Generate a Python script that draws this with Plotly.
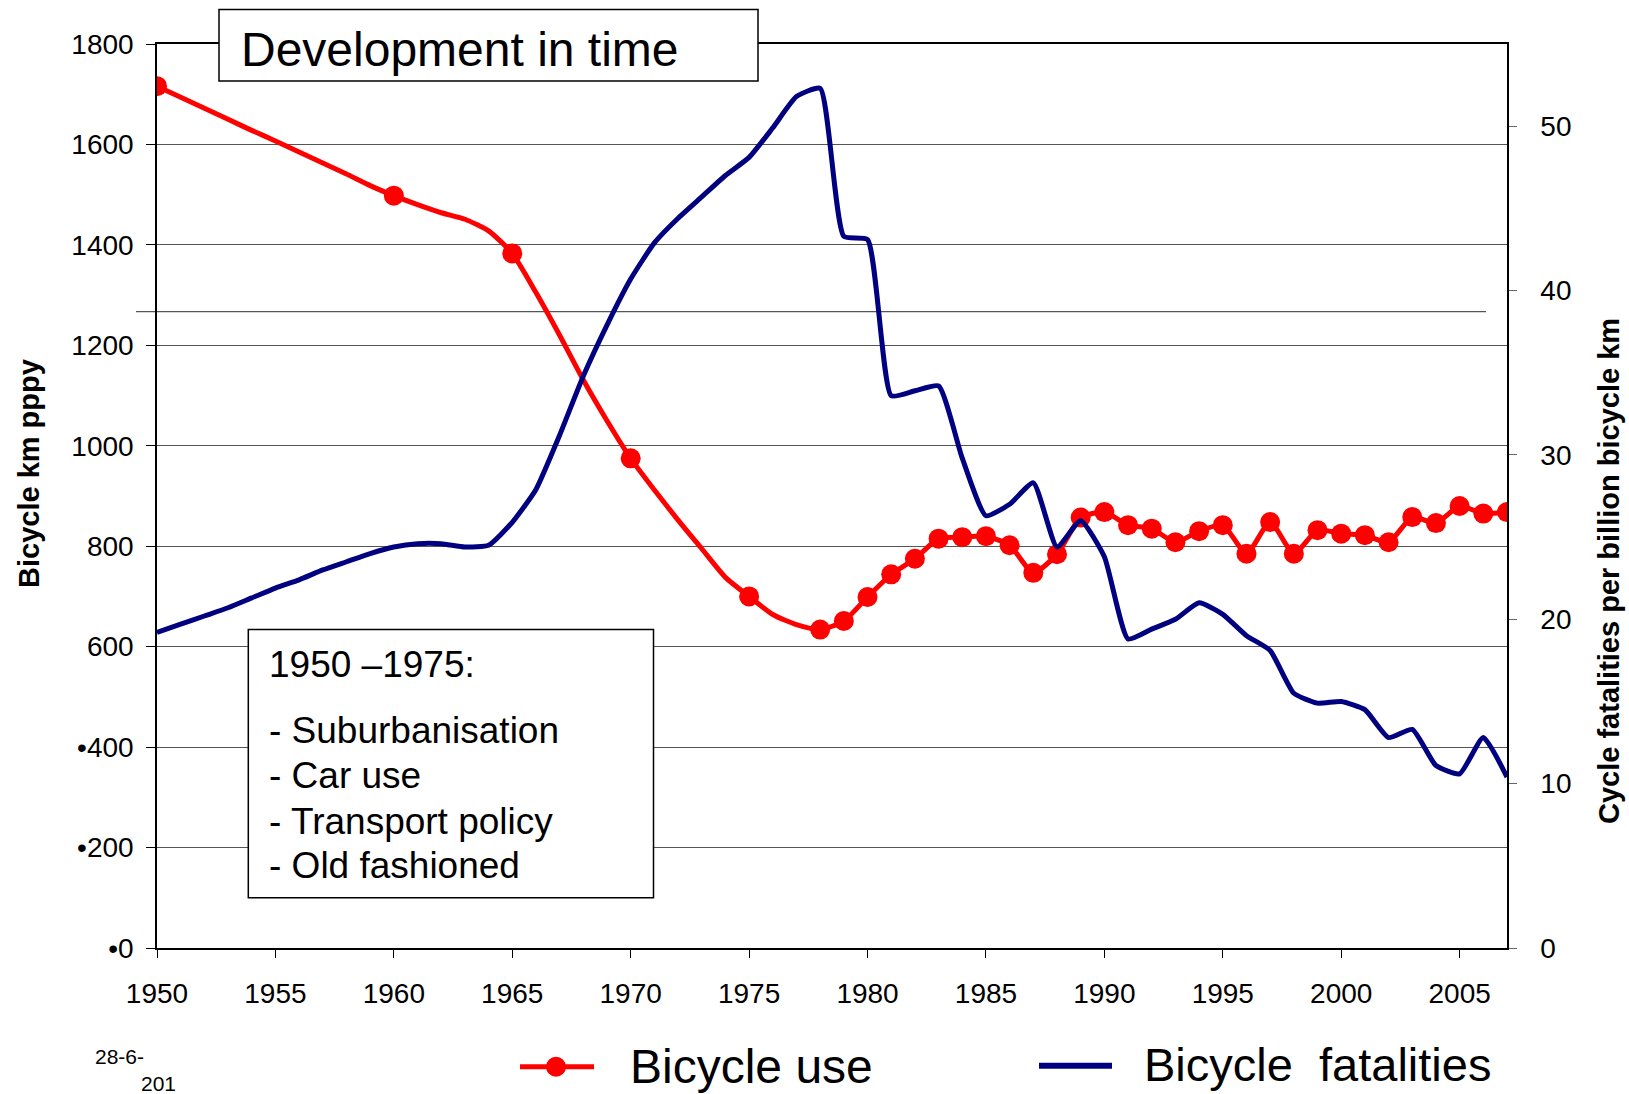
import plotly.graph_objects as go

# ---------------- data ----------------
years = list(range(1950, 2008))
bicycle_use = [1716, 1694, 1672, 1650, 1628, 1607, 1585, 1563, 1541, 1518,
               1498, 1480, 1464, 1451, 1428, 1383, 1305, 1220, 1131, 1050,
               975, 912, 852, 795, 738, 700, 664, 644, 634, 651,
               699, 744, 775, 815, 818, 820, 802, 747, 784, 857,
               868, 842, 835, 808, 830, 842, 785, 848, 785, 832,
               825, 822, 808, 858, 846, 880, 865, 868]
use_marker_years = [1950, 1960, 1965, 1970, 1975] + list(range(1978, 2008))
fatalities = [19.2, 19.7, 20.2, 20.7, 21.3, 21.9, 22.4, 23.0, 23.5, 24.0,
              24.4, 24.6, 24.6, 24.4, 24.5, 25.9, 27.9, 31.2, 34.8, 37.9,
              40.7, 42.9, 44.4, 45.7, 47.0, 48.1, 49.9, 51.8, 52.3, 43.3,
              43.1, 33.6, 33.9, 34.2, 29.8, 26.3, 27.0, 28.3, 24.4, 26.0,
              23.8, 18.8, 19.4, 20.0, 21.0, 20.3, 19.0, 18.1, 15.5, 14.9,
              15.0, 14.5, 12.8, 13.3, 11.1, 10.6, 12.8, 10.4]
x_ticks = list(range(1950, 2006, 5))
left_tickvals = list(range(0, 2000, 200))
left_ticktext = ["•0", "•200", "•400", "600", "800", "1000", "1200", "1400", "1600", "1800"]
right_tickvals = [0, 10, 20, 30, 40, 50]
note_lines = ["1950 –1975:", "- Suburbanisation", "- Car use", "- Transport policy", "- Old fashioned"]

RED = "#FF0000"
BLUE = "#000080"
FONT = "Liberation Sans, Arial, sans-serif"

W, H = 1629, 1094
ML, MR, MT, MB = 157, 122, 44, 146
PW, PH = W - ML - MR, H - MT - MB


def px(fx):
    return (fx - ML) / PW


def py(fy):
    return (H - MB - fy) / PH


fig = go.Figure()

marker_sizes = [20 if y in use_marker_years else 0 for y in years]
fig.add_trace(go.Scatter(
    x=years, y=bicycle_use, mode="lines+markers", name="Bicycle use",
    line=dict(color=RED, width=5, shape="spline", smoothing=0.6),
    marker=dict(color=RED, size=marker_sizes, opacity=1, line=dict(width=0)),
    yaxis="y", showlegend=False))
fig.add_trace(go.Scatter(
    x=years, y=fatalities, mode="lines", name="Bicycle fatalities",
    line=dict(color=BLUE, width=5, shape="spline", smoothing=0.5),
    yaxis="y2", showlegend=False))

shapes = []
annotations = []

# stray horizontal line
shapes.append(dict(type="line", xref="paper", yref="paper",
                   x0=px(136), x1=px(1486), y0=py(311.7), y1=py(311.7),
                   line=dict(color="#555555", width=1.3), layer="below"))

# title box
shapes.append(dict(type="rect", xref="paper", yref="paper",
                   x0=px(219), x1=px(758), y0=py(81), y1=py(9.4),
                   line=dict(color="black", width=1.5), fillcolor="white", layer="above"))
annotations.append(dict(text="Development in time", xref="paper", yref="paper",
                        x=px(239), y=py(49), xanchor="left", yanchor="middle",
                        showarrow=False, font=dict(family=FONT, size=48, color="black")))

# note box
shapes.append(dict(type="rect", xref="paper", yref="paper",
                   x0=px(248.3), x1=px(653.5), y0=py(897.7), y1=py(629.6),
                   line=dict(color="black", width=1.5), fillcolor="white", layer="above"))
note_y = [664, 730, 775.5, 821, 865]
for txt, fy in zip(note_lines, note_y):
    annotations.append(dict(text=txt, xref="paper", yref="paper",
                            x=px(267), y=py(fy), xanchor="left", yanchor="middle",
                            showarrow=False, font=dict(family=FONT, size=37, color="black")))

# axis titles
annotations.append(dict(text="<b>Bicycle km pppy</b>", xref="paper", yref="paper",
                        x=px(29), y=py(474), xanchor="center", yanchor="middle",
                        textangle=-90, showarrow=False,
                        font=dict(family=FONT, size=29, color="black")))
annotations.append(dict(text="<b>Cycle fatalities per billion bicycle km</b>", xref="paper", yref="paper",
                        x=px(1609), y=py(571), xanchor="center", yanchor="middle",
                        textangle=-90, showarrow=False,
                        font=dict(family=FONT, size=29, color="black")))

# custom legend
shapes.append(dict(type="line", xref="paper", yref="paper",
                   x0=px(520), x1=px(594), y0=py(1066.7), y1=py(1066.7),
                   line=dict(color=RED, width=5)))
shapes.append(dict(type="circle", xref="paper", yref="paper",
                   x0=px(546), x1=px(566), y0=py(1076.7), y1=py(1056.7),
                   line=dict(color=RED, width=0), fillcolor=RED))
annotations.append(dict(text="Bicycle use", xref="paper", yref="paper",
                        x=px(628), y=py(1066), xanchor="left", yanchor="middle",
                        showarrow=False, font=dict(family=FONT, size=48, color="black")))
shapes.append(dict(type="line", xref="paper", yref="paper",
                   x0=px(1039), x1=px(1112), y0=py(1065.7), y1=py(1065.7),
                   line=dict(color=BLUE, width=6)))
annotations.append(dict(text="Bicycle\u00a0 fatalities", xref="paper", yref="paper",
                        x=px(1142), y=py(1064), xanchor="left", yanchor="middle",
                        showarrow=False, font=dict(family=FONT, size=47, color="black")))

# footnote
annotations.append(dict(text="28-6-", xref="paper", yref="paper",
                        x=px(93), y=py(1056), xanchor="left", yanchor="middle",
                        showarrow=False, font=dict(family=FONT, size=21, color="black")))
annotations.append(dict(text="201", xref="paper", yref="paper",
                        x=px(139), y=py(1083.5), xanchor="left", yanchor="middle",
                        showarrow=False, font=dict(family=FONT, size=21, color="black")))

fig.update_layout(
    width=W, height=H,
    margin=dict(l=ML, r=MR, t=MT, b=MB, pad=0),
    paper_bgcolor="white", plot_bgcolor="white",
    font=dict(family=FONT, color="black"),
    showlegend=False,
    xaxis=dict(range=[1950, 2007], tickvals=x_ticks, ticks="outside", ticklen=8,
               tickcolor="black", tickwidth=1.3, showgrid=False, zeroline=False,
               showline=True, linecolor="black", linewidth=1.5, mirror=True,
               tickfont=dict(family=FONT, size=28, color="black"),
               ticklabelstandoff=12),
    yaxis=dict(range=[0, 1800], tickvals=left_tickvals, ticktext=left_ticktext,
               ticks="outside", ticklen=9, tickcolor="black", tickwidth=1.3,
               showgrid=True, gridcolor="#555555", gridwidth=1.3, zeroline=False,
               showline=True, linecolor="black", linewidth=1.5,
               tickfont=dict(family=FONT, size=28, color="black"),
               ticklabelstandoff=7),
    yaxis2=dict(range=[0, 55], tickvals=right_tickvals, overlaying="y", side="right",
                ticks="outside", ticklen=8, tickcolor="#666666", tickwidth=1.3,
                showgrid=False, zeroline=False,
                showline=True, linecolor="black", linewidth=1.5,
                tickfont=dict(family=FONT, size=28, color="black"),
                ticklabelstandoff=18),
    shapes=shapes,
    annotations=annotations,
)

fig.write_html("out.html", config={"displayModeBar": False},
               post_script="document.body.style.margin='0';document.body.style.overflow='hidden';")
